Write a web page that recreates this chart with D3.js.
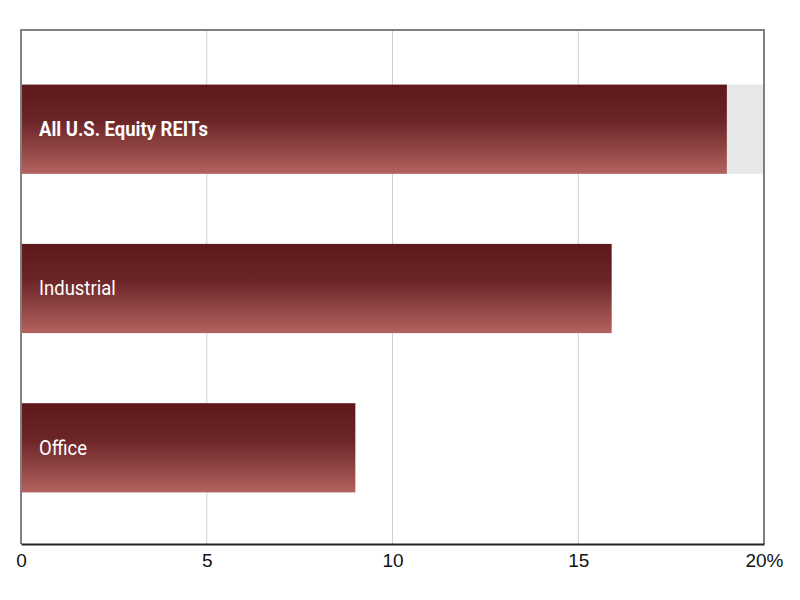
<!DOCTYPE html>
<html>
<head>
<meta charset="utf-8">
<style>
  body { margin: 0; background: #fff; }
  .tick text { font-family: "Liberation Sans", sans-serif; font-size: 19px; fill: #111; }
  .label { font-family: "Roboto", "Liberation Sans Narrow", sans-serif; font-size: 21px; fill: #fff; }
</style>
<script src="https://cdn.jsdelivr.net/npm/d3@7"></script>
</head>
<body>
<script>
const categories = ["All U.S. Equity REITs", "Industrial", "Office"];
const values = [19, 15.9, 9];
const tickValues = [0, 5, 10, 15, 20];

const w = 800, h = 600;
const mLeft = 21, mRight = 764, mTop = 30, mBottom = 544;

const svg = d3.select("body").append("svg").attr("width", w).attr("height", h);

const defs = svg.append("defs");
const grad = defs.append("linearGradient").attr("id", "barGrad")
  .attr("x1", 0).attr("y1", 0).attr("x2", 0).attr("y2", 1);
grad.append("stop").attr("offset", "0%").attr("stop-color", "#5e181b");
grad.append("stop").attr("offset", "40%").attr("stop-color", "#6b2427");
grad.append("stop").attr("offset", "100%").attr("stop-color", "#b3625f");

const x = d3.scaleLinear().domain([0, 20]).range([mLeft, mRight]);
const y = d3.scaleBand().domain(categories).range([mTop + 10, mBottom - 7]).paddingInner(0.44).paddingOuter(0.28);

// gridlines
svg.append("g").selectAll("line").data(tickValues.slice(1, 4)).join("line")
  .attr("x1", d => x(d)).attr("x2", d => x(d))
  .attr("y1", mTop).attr("y2", mBottom)
  .attr("stroke", "#cfcfcf").attr("stroke-width", 1);

// background track for first bar
svg.append("rect")
  .attr("x", x(0)).attr("y", y(categories[0]))
  .attr("width", x(20) - x(0)).attr("height", y.bandwidth())
  .attr("fill", "#e6e7e8");

svg.append("g").selectAll("rect").data(categories).join("rect")
  .attr("x", x(0)).attr("y", d => y(d))
  .attr("width", (d, i) => x(values[i]) - x(0))
  .attr("height", y.bandwidth())
  .attr("fill", "url(#barGrad)");

svg.append("g").selectAll("text").data(categories).join("text")
  .attr("class", "label")
  .attr("x", mLeft + 18).attr("y", d => y(d) + y.bandwidth() / 2 + 7)
  .attr("font-weight", (d, i) => i === 0 ? "bold" : "normal")
  .attr("transform", `translate(${mLeft + 18},0) scale(0.88,1) translate(${-(mLeft + 18)},0)`)
  .text(d => d);

// frame
svg.append("path")
  .attr("d", `M${mLeft},${mBottom}V${mTop}H${mRight}V${mBottom}`)
  .attr("fill", "none").attr("stroke", "#808080").attr("stroke-width", 2);

const ax = svg.append("g").attr("transform", `translate(0,${mBottom})`)
  .call(d3.axisBottom(x).tickValues(tickValues).tickSize(0).tickPadding(10)
    .tickFormat(d => d === 20 ? "20%" : d));
ax.select(".domain").attr("stroke", "#222").attr("stroke-width", 2);
</script>
</body>
</html>
